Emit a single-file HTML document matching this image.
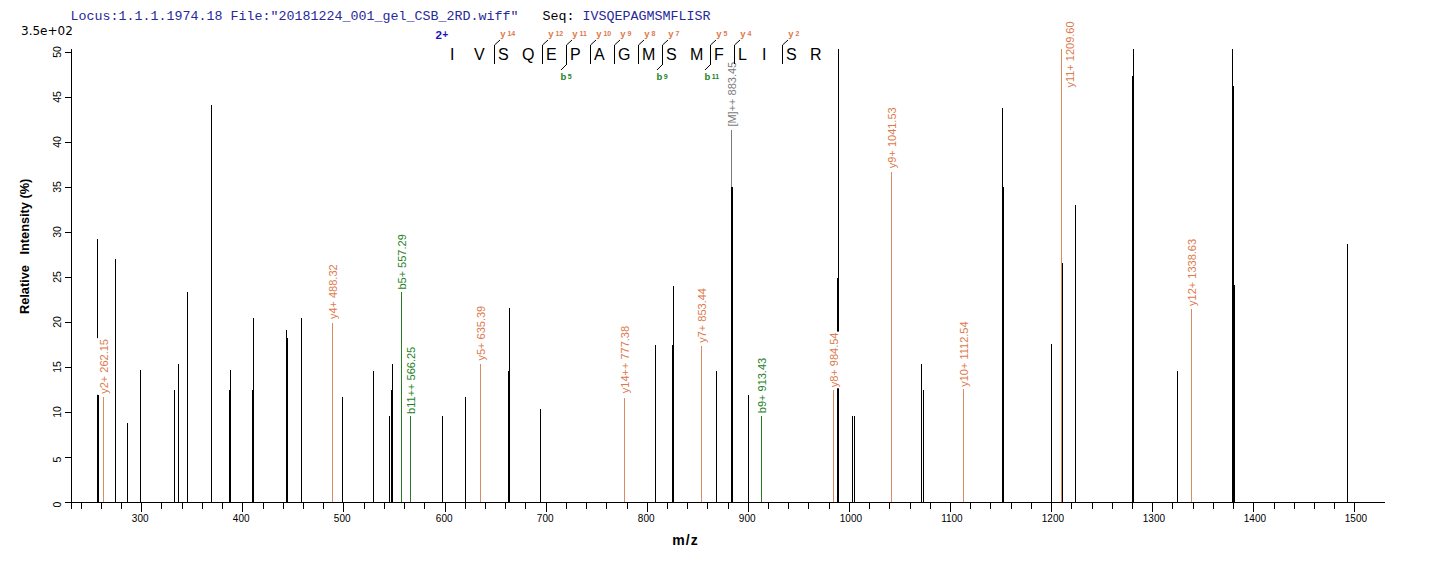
<!DOCTYPE html><html><head><meta charset="utf-8"><title>Spectrum</title><style>html,body{margin:0;padding:0;background:#fff;width:1436px;height:562px;overflow:hidden}svg{display:block;font-family:"Liberation Sans",Arial,sans-serif}</style></head><body>
<svg width="1436" height="562" viewBox="0 0 1436 562">
<rect width="1436" height="562" fill="#fff"/>
<text font-family="'Liberation Mono','Courier New',monospace" x="70.5" y="20" font-size="13.33" fill="#28289A" xml:space="preserve">Locus:1.1.1.1974.18 File:"20181224_001_gel_CSB_2RD.wiff"   <tspan fill="#000">Seq:</tspan> IVSQEPAGMSMFLISR</text>
<text x="21" y="35" font-size="12" fill="#000" font-family="'DejaVu Sans',sans-serif">3.5e+02</text>
<g shape-rendering="crispEdges" stroke="#000" stroke-width="1">
<line x1="71.5" y1="49" x2="71.5" y2="509"/>
<line x1="71" y1="502.5" x2="1385" y2="502.5"/>
<line x1="65" y1="502.5" x2="71" y2="502.5"/>
<line x1="65" y1="457.5" x2="71" y2="457.5"/>
<line x1="65" y1="412.5" x2="71" y2="412.5"/>
<line x1="65" y1="367.5" x2="71" y2="367.5"/>
<line x1="65" y1="322.5" x2="71" y2="322.5"/>
<line x1="65" y1="277.5" x2="71" y2="277.5"/>
<line x1="65" y1="232.5" x2="71" y2="232.5"/>
<line x1="65" y1="187.5" x2="71" y2="187.5"/>
<line x1="65" y1="142.5" x2="71" y2="142.5"/>
<line x1="65" y1="97.5" x2="71" y2="97.5"/>
<line x1="65" y1="52.5" x2="71" y2="52.5"/>
<line x1="81.5" y1="503" x2="81.5" y2="509"/>
<line x1="101.5" y1="503" x2="101.5" y2="509"/>
<line x1="121.5" y1="503" x2="121.5" y2="509"/>
<line x1="141.5" y1="503" x2="141.5" y2="512"/>
<line x1="161.5" y1="503" x2="161.5" y2="509"/>
<line x1="182.5" y1="503" x2="182.5" y2="509"/>
<line x1="202.5" y1="503" x2="202.5" y2="509"/>
<line x1="222.5" y1="503" x2="222.5" y2="509"/>
<line x1="242.5" y1="503" x2="242.5" y2="512"/>
<line x1="263.5" y1="503" x2="263.5" y2="509"/>
<line x1="283.5" y1="503" x2="283.5" y2="509"/>
<line x1="303.5" y1="503" x2="303.5" y2="509"/>
<line x1="323.5" y1="503" x2="323.5" y2="509"/>
<line x1="343.5" y1="503" x2="343.5" y2="512"/>
<line x1="364.5" y1="503" x2="364.5" y2="509"/>
<line x1="384.5" y1="503" x2="384.5" y2="509"/>
<line x1="404.5" y1="503" x2="404.5" y2="509"/>
<line x1="424.5" y1="503" x2="424.5" y2="509"/>
<line x1="445.5" y1="503" x2="445.5" y2="512"/>
<line x1="465.5" y1="503" x2="465.5" y2="509"/>
<line x1="485.5" y1="503" x2="485.5" y2="509"/>
<line x1="505.5" y1="503" x2="505.5" y2="509"/>
<line x1="525.5" y1="503" x2="525.5" y2="509"/>
<line x1="546.5" y1="503" x2="546.5" y2="512"/>
<line x1="566.5" y1="503" x2="566.5" y2="509"/>
<line x1="586.5" y1="503" x2="586.5" y2="509"/>
<line x1="606.5" y1="503" x2="606.5" y2="509"/>
<line x1="627.5" y1="503" x2="627.5" y2="509"/>
<line x1="647.5" y1="503" x2="647.5" y2="512"/>
<line x1="667.5" y1="503" x2="667.5" y2="509"/>
<line x1="687.5" y1="503" x2="687.5" y2="509"/>
<line x1="707.5" y1="503" x2="707.5" y2="509"/>
<line x1="728.5" y1="503" x2="728.5" y2="509"/>
<line x1="748.5" y1="503" x2="748.5" y2="512"/>
<line x1="768.5" y1="503" x2="768.5" y2="509"/>
<line x1="788.5" y1="503" x2="788.5" y2="509"/>
<line x1="808.5" y1="503" x2="808.5" y2="509"/>
<line x1="829.5" y1="503" x2="829.5" y2="509"/>
<line x1="849.5" y1="503" x2="849.5" y2="512"/>
<line x1="869.5" y1="503" x2="869.5" y2="509"/>
<line x1="889.5" y1="503" x2="889.5" y2="509"/>
<line x1="910.5" y1="503" x2="910.5" y2="509"/>
<line x1="930.5" y1="503" x2="930.5" y2="509"/>
<line x1="950.5" y1="503" x2="950.5" y2="512"/>
<line x1="970.5" y1="503" x2="970.5" y2="509"/>
<line x1="990.5" y1="503" x2="990.5" y2="509"/>
<line x1="1011.5" y1="503" x2="1011.5" y2="509"/>
<line x1="1031.5" y1="503" x2="1031.5" y2="509"/>
<line x1="1051.5" y1="503" x2="1051.5" y2="512"/>
<line x1="1071.5" y1="503" x2="1071.5" y2="509"/>
<line x1="1092.5" y1="503" x2="1092.5" y2="509"/>
<line x1="1112.5" y1="503" x2="1112.5" y2="509"/>
<line x1="1132.5" y1="503" x2="1132.5" y2="509"/>
<line x1="1152.5" y1="503" x2="1152.5" y2="512"/>
<line x1="1172.5" y1="503" x2="1172.5" y2="509"/>
<line x1="1193.5" y1="503" x2="1193.5" y2="509"/>
<line x1="1213.5" y1="503" x2="1213.5" y2="509"/>
<line x1="1233.5" y1="503" x2="1233.5" y2="509"/>
<line x1="1253.5" y1="503" x2="1253.5" y2="512"/>
<line x1="1274.5" y1="503" x2="1274.5" y2="509"/>
<line x1="1294.5" y1="503" x2="1294.5" y2="509"/>
<line x1="1314.5" y1="503" x2="1314.5" y2="509"/>
<line x1="1334.5" y1="503" x2="1334.5" y2="509"/>
<line x1="1354.5" y1="503" x2="1354.5" y2="512"/>
</g>
<text transform="translate(61,504.5) rotate(-90)" text-anchor="middle" font-size="10.5">0</text>
<text transform="translate(61,459.5) rotate(-90)" text-anchor="middle" font-size="10.5">5</text>
<text transform="translate(61,412.0) rotate(-90)" text-anchor="middle" font-size="10.5">10</text>
<text transform="translate(61,367.0) rotate(-90)" text-anchor="middle" font-size="10.5">15</text>
<text transform="translate(61,322.0) rotate(-90)" text-anchor="middle" font-size="10.5">20</text>
<text transform="translate(61,277.0) rotate(-90)" text-anchor="middle" font-size="10.5">25</text>
<text transform="translate(61,232.0) rotate(-90)" text-anchor="middle" font-size="10.5">30</text>
<text transform="translate(61,187.0) rotate(-90)" text-anchor="middle" font-size="10.5">35</text>
<text transform="translate(61,142.0) rotate(-90)" text-anchor="middle" font-size="10.5">40</text>
<text transform="translate(61,97.0) rotate(-90)" text-anchor="middle" font-size="10.5">45</text>
<text transform="translate(61,52.0) rotate(-90)" text-anchor="middle" font-size="10.5">50</text>
<text x="140.2" y="522" text-anchor="middle" font-size="10">300</text>
<text x="241.2" y="522" text-anchor="middle" font-size="10">400</text>
<text x="342.2" y="522" text-anchor="middle" font-size="10">500</text>
<text x="444.2" y="522" text-anchor="middle" font-size="10">600</text>
<text x="545.2" y="522" text-anchor="middle" font-size="10">700</text>
<text x="646.2" y="522" text-anchor="middle" font-size="10">800</text>
<text x="747.2" y="522" text-anchor="middle" font-size="10">900</text>
<text x="850.9" y="522" text-anchor="middle" font-size="10">1000</text>
<text x="951.9" y="522" text-anchor="middle" font-size="10">1100</text>
<text x="1052.9" y="522" text-anchor="middle" font-size="10">1200</text>
<text x="1153.9" y="522" text-anchor="middle" font-size="10">1300</text>
<text x="1254.9" y="522" text-anchor="middle" font-size="10">1400</text>
<text x="1355.9" y="522" text-anchor="middle" font-size="10">1500</text>
<text transform="translate(28.6,246.4) rotate(-90)" text-anchor="middle" font-size="12.76" font-weight="bold" xml:space="preserve">Relative   Intensity (%)</text>
<text x="685.5" y="544.6" text-anchor="middle" font-size="14" font-weight="bold" letter-spacing="1">m/z</text>
<g shape-rendering="crispEdges" stroke-width="1">
<line x1="97.5" y1="239" x2="97.5" y2="502" stroke="#000000"/>
<line x1="98.5" y1="395" x2="98.5" y2="502" stroke="#000000"/>
<line x1="103.5" y1="397" x2="103.5" y2="502" stroke="#D88A62"/>
<line x1="115.5" y1="259" x2="115.5" y2="502" stroke="#000000"/>
<line x1="127.5" y1="423" x2="127.5" y2="502" stroke="#000000"/>
<line x1="140.5" y1="370" x2="140.5" y2="502" stroke="#000000"/>
<line x1="174.5" y1="390" x2="174.5" y2="502" stroke="#000000"/>
<line x1="178.5" y1="364" x2="178.5" y2="502" stroke="#000000"/>
<line x1="187.5" y1="292" x2="187.5" y2="502" stroke="#000000"/>
<line x1="211.5" y1="105" x2="211.5" y2="502" stroke="#000000"/>
<line x1="230.5" y1="370" x2="230.5" y2="502" stroke="#000000"/>
<line x1="229.5" y1="390" x2="229.5" y2="502" stroke="#000000"/>
<line x1="253.5" y1="318" x2="253.5" y2="502" stroke="#000000"/>
<line x1="252.5" y1="390" x2="252.5" y2="502" stroke="#000000"/>
<line x1="286.5" y1="330" x2="286.5" y2="502" stroke="#000000"/>
<line x1="287.5" y1="338" x2="287.5" y2="502" stroke="#000000"/>
<line x1="301.5" y1="318" x2="301.5" y2="502" stroke="#000000"/>
<line x1="332.5" y1="323" x2="332.5" y2="502" stroke="#D88A62"/>
<line x1="342.5" y1="397" x2="342.5" y2="502" stroke="#000000"/>
<line x1="373.5" y1="371" x2="373.5" y2="502" stroke="#000000"/>
<line x1="389.5" y1="416" x2="389.5" y2="502" stroke="#000000"/>
<line x1="391.5" y1="390" x2="391.5" y2="502" stroke="#000000"/>
<line x1="392.5" y1="364" x2="392.5" y2="502" stroke="#000000"/>
<line x1="401.5" y1="292" x2="401.5" y2="502" stroke="#2A7A2A"/>
<line x1="410.5" y1="416" x2="410.5" y2="502" stroke="#2A7A2A"/>
<line x1="442.5" y1="416" x2="442.5" y2="502" stroke="#000000"/>
<line x1="465.5" y1="397" x2="465.5" y2="502" stroke="#000000"/>
<line x1="480.5" y1="364" x2="480.5" y2="502" stroke="#D88A62"/>
<line x1="509.5" y1="308" x2="509.5" y2="502" stroke="#000000"/>
<line x1="508.5" y1="371" x2="508.5" y2="502" stroke="#000000"/>
<line x1="540.5" y1="409" x2="540.5" y2="502" stroke="#000000"/>
<line x1="624.5" y1="398" x2="624.5" y2="502" stroke="#D88A62"/>
<line x1="655.5" y1="345" x2="655.5" y2="502" stroke="#000000"/>
<line x1="673.5" y1="286" x2="673.5" y2="502" stroke="#000000"/>
<line x1="672.5" y1="345" x2="672.5" y2="502" stroke="#000000"/>
<line x1="701.5" y1="346" x2="701.5" y2="502" stroke="#D88A62"/>
<line x1="716.5" y1="371" x2="716.5" y2="502" stroke="#000000"/>
<line x1="731.5" y1="130" x2="731.5" y2="502" stroke="#7A7A7A"/>
<line x1="731.5" y1="187" x2="731.5" y2="502" stroke="#000000"/>
<line x1="732.5" y1="187" x2="732.5" y2="502" stroke="#000000"/>
<line x1="748.5" y1="395" x2="748.5" y2="502" stroke="#000000"/>
<line x1="761.5" y1="416" x2="761.5" y2="502" stroke="#2A7A2A"/>
<line x1="833.5" y1="390" x2="833.5" y2="502" stroke="#D88A62"/>
<line x1="838.5" y1="49" x2="838.5" y2="502" stroke="#000000"/>
<line x1="837.5" y1="278" x2="837.5" y2="502" stroke="#000000"/>
<line x1="852.5" y1="416" x2="852.5" y2="502" stroke="#000000"/>
<line x1="854.5" y1="416" x2="854.5" y2="502" stroke="#000000"/>
<line x1="891.5" y1="172" x2="891.5" y2="502" stroke="#D88A62"/>
<line x1="921.5" y1="364" x2="921.5" y2="502" stroke="#000000"/>
<line x1="923.5" y1="390" x2="923.5" y2="502" stroke="#000000"/>
<line x1="963.5" y1="389" x2="963.5" y2="502" stroke="#D88A62"/>
<line x1="1002.5" y1="108" x2="1002.5" y2="502" stroke="#000000"/>
<line x1="1003.5" y1="187" x2="1003.5" y2="502" stroke="#000000"/>
<line x1="1051.5" y1="344" x2="1051.5" y2="502" stroke="#000000"/>
<line x1="1061.5" y1="49" x2="1061.5" y2="502" stroke="#D88A62"/>
<line x1="1062.5" y1="263" x2="1062.5" y2="502" stroke="#000000"/>
<line x1="1075.5" y1="205" x2="1075.5" y2="502" stroke="#000000"/>
<line x1="1133.5" y1="49" x2="1133.5" y2="502" stroke="#000000"/>
<line x1="1132.5" y1="76" x2="1132.5" y2="502" stroke="#000000"/>
<line x1="1177.5" y1="371" x2="1177.5" y2="502" stroke="#000000"/>
<line x1="1191.5" y1="309" x2="1191.5" y2="502" stroke="#D88A62"/>
<line x1="1232.5" y1="49" x2="1232.5" y2="502" stroke="#000000"/>
<line x1="1233.5" y1="86" x2="1233.5" y2="502" stroke="#000000"/>
<line x1="1234.5" y1="285" x2="1234.5" y2="502" stroke="#000000"/>
<line x1="1347.5" y1="244" x2="1347.5" y2="502" stroke="#000000"/>
</g>
<rect x="97.0" y="338.1" width="14" height="56.7" fill="#fff"/>
<text transform="translate(108.0,393.8) rotate(-90)" font-size="11.00" fill="#DC7A4C">y2+ 262.15</text>
<rect x="326.0" y="263.4" width="14" height="56.7" fill="#fff"/>
<text transform="translate(337.0,319.1) rotate(-90)" font-size="11.00" fill="#DC7A4C">y4+ 488.32</text>
<rect x="395.0" y="233.2" width="14" height="57.4" fill="#fff"/>
<text transform="translate(406.0,289.6) rotate(-90)" font-size="11.00" fill="#1E821E">b5+ 557.29</text>
<rect x="404.0" y="345.0" width="14" height="69.9" fill="#fff"/>
<text transform="translate(415.0,413.9) rotate(-90)" font-size="11.00" fill="#1E821E">b11++ 566.25</text>
<rect x="474.0" y="304.8" width="14" height="56.7" fill="#fff"/>
<text transform="translate(485.0,360.5) rotate(-90)" font-size="11.00" fill="#DC7A4C">y5+ 635.39</text>
<rect x="618.0" y="324.9" width="14" height="69.3" fill="#fff"/>
<text transform="translate(629.0,393.2) rotate(-90)" font-size="11.00" fill="#DC7A4C">y14++ 777.38</text>
<rect x="695.0" y="287.1" width="14" height="56.7" fill="#fff"/>
<text transform="translate(706.0,342.8) rotate(-90)" font-size="11.00" fill="#DC7A4C">y7+ 853.44</text>
<rect x="725.0" y="60.8" width="14" height="66.8" fill="#fff"/>
<text transform="translate(736.0,126.6) rotate(-90)" font-size="11.00" fill="#7A7A7A">[M]++ 883.45</text>
<rect x="755.0" y="356.8" width="14" height="57.4" fill="#fff"/>
<text transform="translate(766.0,413.2) rotate(-90)" font-size="11.00" fill="#1E821E">b9+ 913.43</text>
<rect x="827.0" y="331.6" width="14" height="56.7" fill="#fff"/>
<text transform="translate(838.0,387.3) rotate(-90)" font-size="11.00" fill="#DC7A4C">y8+ 984.54</text>
<rect x="885.0" y="106.3" width="14" height="62.9" fill="#fff"/>
<text transform="translate(896.0,168.2) rotate(-90)" font-size="11.00" fill="#DC7A4C">y9+ 1041.53</text>
<rect x="957.0" y="318.8" width="14" height="69.0" fill="#fff"/>
<text transform="translate(968.0,386.8) rotate(-90)" font-size="11.00" fill="#DC7A4C">y10+ 1112.54</text>
<rect x="1063.0" y="19.6" width="14" height="69.0" fill="#fff"/>
<text transform="translate(1074.0,87.6) rotate(-90)" font-size="11.00" fill="#DC7A4C">y11+ 1209.60</text>
<rect x="1185.0" y="237.9" width="14" height="69.0" fill="#fff"/>
<text transform="translate(1196.0,305.9) rotate(-90)" font-size="11.00" fill="#DC7A4C">y12+ 1338.63</text>
<text x="435.5" y="39" font-size="11.6" font-weight="bold" fill="#1E14BE">2<tspan font-size="10.4" dy="-0.9" dx="0.3">+</tspan></text>
<text x="450" y="60" font-size="16" fill="#000">I</text>
<text x="474" y="60" font-size="16" fill="#000">V</text>
<text x="498" y="60" font-size="16" fill="#000">S</text>
<text x="522" y="60" font-size="16" fill="#000">Q</text>
<text x="546" y="60" font-size="16" fill="#000">E</text>
<text x="570" y="60" font-size="16" fill="#000">P</text>
<text x="594" y="60" font-size="16" fill="#000">A</text>
<text x="618" y="60" font-size="16" fill="#000">G</text>
<text x="642" y="60" font-size="16" fill="#000">M</text>
<text x="666" y="60" font-size="16" fill="#000">S</text>
<text x="690" y="60" font-size="16" fill="#000">M</text>
<text x="714" y="60" font-size="16" fill="#000">F</text>
<text x="738" y="60" font-size="16" fill="#000">L</text>
<text x="762" y="60" font-size="16" fill="#000">I</text>
<text x="786" y="60" font-size="16" fill="#000">S</text>
<text x="810" y="60" font-size="16" fill="#000">R</text>
<g stroke="#000" stroke-width="1" fill="none">
<line x1="494.5" y1="45" x2="494.5" y2="63.8" shape-rendering="crispEdges"/>
<line x1="494.5" y1="45" x2="500.0" y2="40"/>
<line x1="542.5" y1="45" x2="542.5" y2="63.8" shape-rendering="crispEdges"/>
<line x1="542.5" y1="45" x2="548.0" y2="40"/>
<line x1="566.5" y1="45" x2="566.5" y2="64.5" shape-rendering="crispEdges"/>
<line x1="566.5" y1="45" x2="572.0" y2="40"/>
<line x1="566.5" y1="64.5" x2="561.0" y2="70"/>
<line x1="590.5" y1="45" x2="590.5" y2="63.8" shape-rendering="crispEdges"/>
<line x1="590.5" y1="45" x2="596.0" y2="40"/>
<line x1="614.5" y1="45" x2="614.5" y2="63.8" shape-rendering="crispEdges"/>
<line x1="614.5" y1="45" x2="620.0" y2="40"/>
<line x1="638.5" y1="45" x2="638.5" y2="63.8" shape-rendering="crispEdges"/>
<line x1="638.5" y1="45" x2="644.0" y2="40"/>
<line x1="662.5" y1="45" x2="662.5" y2="64.5" shape-rendering="crispEdges"/>
<line x1="662.5" y1="45" x2="668.0" y2="40"/>
<line x1="662.5" y1="64.5" x2="657.0" y2="70"/>
<line x1="710.5" y1="45" x2="710.5" y2="64.5" shape-rendering="crispEdges"/>
<line x1="710.5" y1="45" x2="716.0" y2="40"/>
<line x1="710.5" y1="64.5" x2="705.0" y2="70"/>
<line x1="734.5" y1="45" x2="734.5" y2="63.8" shape-rendering="crispEdges"/>
<line x1="734.5" y1="45" x2="740.0" y2="40"/>
<line x1="782.5" y1="45" x2="782.5" y2="63.8" shape-rendering="crispEdges"/>
<line x1="782.5" y1="45" x2="788.0" y2="40"/>
</g>
<text x="500.3" y="37" font-size="9.5" font-weight="bold" fill="#DC7A4C">y<tspan font-size="7" dx="1.8" dy="-1.2">14</tspan></text>
<text x="548.3" y="37" font-size="9.5" font-weight="bold" fill="#DC7A4C">y<tspan font-size="7" dx="1.8" dy="-1.2">12</tspan></text>
<text x="572.3" y="37" font-size="9.5" font-weight="bold" fill="#DC7A4C">y<tspan font-size="7" dx="1.8" dy="-1.2">11</tspan></text>
<text x="596.3" y="37" font-size="9.5" font-weight="bold" fill="#DC7A4C">y<tspan font-size="7" dx="1.8" dy="-1.2">10</tspan></text>
<text x="620.3" y="37" font-size="9.5" font-weight="bold" fill="#DC7A4C">y<tspan font-size="7" dx="1.8" dy="-1.2">9</tspan></text>
<text x="644.3" y="37" font-size="9.5" font-weight="bold" fill="#DC7A4C">y<tspan font-size="7" dx="1.8" dy="-1.2">8</tspan></text>
<text x="668.3" y="37" font-size="9.5" font-weight="bold" fill="#DC7A4C">y<tspan font-size="7" dx="1.8" dy="-1.2">7</tspan></text>
<text x="716.3" y="37" font-size="9.5" font-weight="bold" fill="#DC7A4C">y<tspan font-size="7" dx="1.8" dy="-1.2">5</tspan></text>
<text x="740.3" y="37" font-size="9.5" font-weight="bold" fill="#DC7A4C">y<tspan font-size="7" dx="1.8" dy="-1.2">4</tspan></text>
<text x="788.3" y="37" font-size="9.5" font-weight="bold" fill="#DC7A4C">y<tspan font-size="7" dx="1.8" dy="-1.2">2</tspan></text>
<text x="560.5" y="79.5" font-size="9.5" font-weight="bold" fill="#1E821E">b<tspan font-size="7" dx="1.4" dy="-1">5</tspan></text>
<text x="656.5" y="79.5" font-size="9.5" font-weight="bold" fill="#1E821E">b<tspan font-size="7" dx="1.4" dy="-1">9</tspan></text>
<text x="704.5" y="79.5" font-size="9.5" font-weight="bold" fill="#1E821E">b<tspan font-size="7" dx="1.4" dy="-1">11</tspan></text>
</svg></body></html>
